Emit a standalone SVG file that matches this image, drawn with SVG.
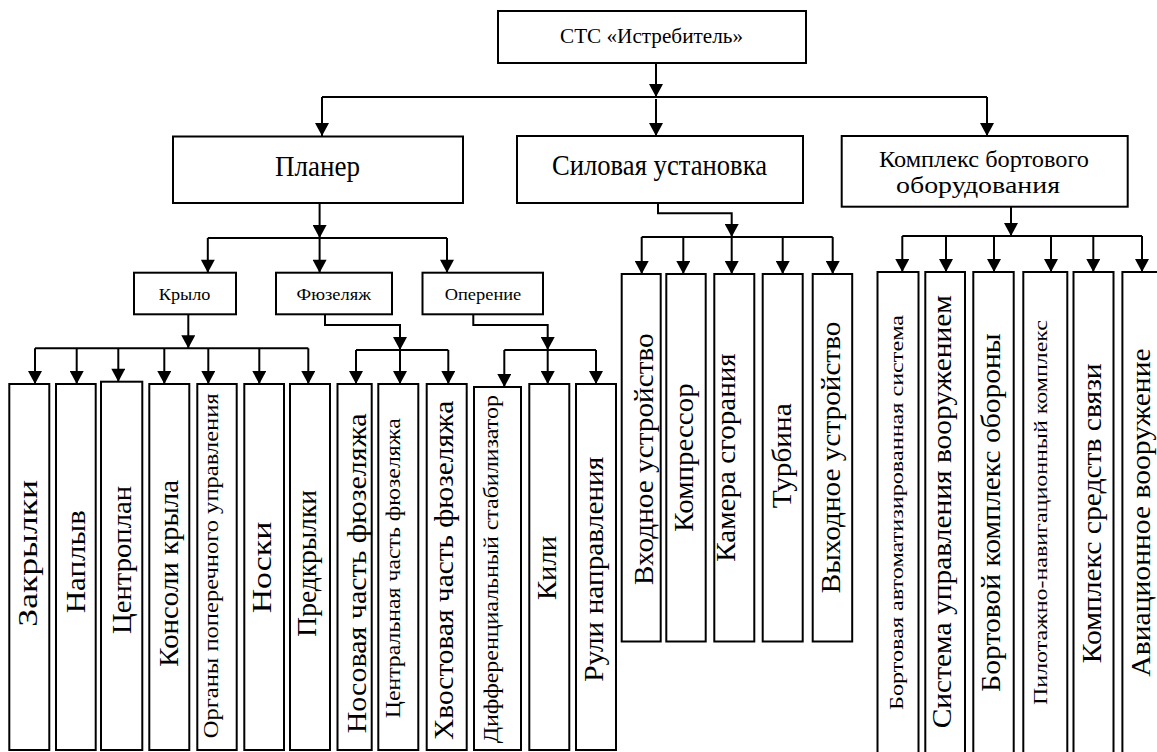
<svg xmlns="http://www.w3.org/2000/svg" width="1157" height="752" viewBox="0 0 1157 752">
<style>
.box{fill:#fff;stroke:#000;stroke-width:2}
.t{font-family:"Liberation Serif","Times New Roman",serif;fill:#000;text-anchor:middle}
.c{fill:none;stroke:#000;stroke-width:2}
.a{fill:none;stroke:#000;stroke-width:2;marker-end:url(#ah)}
.big{font-size:27px}
.mid{font-size:22px}
.sm{font-size:19px}
</style>
<defs>
<marker id="ah" markerUnits="userSpaceOnUse" markerWidth="14" markerHeight="14" viewBox="0 0 13 14" refX="13" refY="7" orient="auto">
<path d="M0,0 L13,7 L0,14 z" fill="#000"/>
</marker>
</defs>
<rect width="1157" height="752" fill="#fff"/>

<g id="connectors">
<path class="a" d="M656,63 V97"/>
<path class="c" d="M322,97 H987"/>
<path class="a" d="M322,97 V136"/>
<path class="a" d="M656,99 V136"/>
<path class="a" d="M987,97 V136"/>

<path class="a" d="M319.6,203 V238"/>
<path class="c" d="M207.8,238 H447"/>
<path class="a" d="M207.8,238 V272.7"/>
<path class="a" d="M319.6,238 V272.7"/>
<path class="a" d="M447,238 V272.7"/>

<path class="a" d="M188.3,314.3 V348.3"/>
<path class="c" d="M35,348.3 H308.3"/>
<path class="a" d="M35,348.3 V384"/>
<path class="a" d="M76.7,348.3 V384"/>
<path class="a" d="M118.3,348.3 V381.7"/>
<path class="a" d="M164.3,348.3 V384"/>
<path class="a" d="M208.3,348.3 V384"/>
<path class="a" d="M259.3,348.3 V384"/>
<path class="a" d="M308.3,348.3 V384"/>

<path class="a" d="M325,314 V325 H400 V350"/>
<path class="c" d="M356,350 H448.3"/>
<path class="a" d="M356,350 V384"/>
<path class="a" d="M400,350 V384"/>
<path class="a" d="M448.3,350 V384"/>

<path class="a" d="M473.3,314 V325 H547.7 V350"/>
<path class="c" d="M504.3,350 H596"/>
<path class="a" d="M504.3,350 V387"/>
<path class="a" d="M547.7,350 V384"/>
<path class="a" d="M596,350 V384"/>

<path class="a" d="M658,203 V213.3 H731.7 V237"/>
<path class="c" d="M641.7,237 H832.7"/>
<path class="a" d="M641.7,237 V274"/>
<path class="a" d="M683.3,237 V274"/>
<path class="a" d="M731.7,237 V274"/>
<path class="a" d="M782.7,237 V274"/>
<path class="a" d="M832.7,237 V274"/>

<path class="a" d="M1011,206.7 V236"/>
<path class="c" d="M902.3,236 H1142"/>
<path class="a" d="M902.3,236 V272"/>
<path class="a" d="M946,236 V272"/>
<path class="a" d="M994,236 V272"/>
<path class="a" d="M1051,236 V272"/>
<path class="a" d="M1093.3,236 V272"/>
<path class="a" d="M1142,236 V272"/>
</g>

<g id="n-root"><rect class="box" x="498" y="11" width="308" height="52"/><text class="t" x="651.5" y="43" font-size="20" textLength="183" lengthAdjust="spacingAndGlyphs">СТС «Истребитель»</text></g>

<g id="n-planer"><rect class="box" x="173" y="136.5" width="290" height="66.5"/><text class="t" x="317.5" y="176" font-size="29" textLength="85" lengthAdjust="spacingAndGlyphs">Планер</text></g>
<g id="n-silovaya"><rect class="box" x="517" y="136" width="286" height="67"/><text class="t" x="659.5" y="175" font-size="29" textLength="215" lengthAdjust="spacingAndGlyphs">Силовая установка</text></g>
<g id="n-kompleks"><rect class="box" x="841.7" y="136" width="286" height="70.7"/><text class="t" x="984" y="167" font-size="23" textLength="210" lengthAdjust="spacingAndGlyphs">Комплекс бортового</text><text class="t" x="978" y="193" font-size="23" textLength="164" lengthAdjust="spacingAndGlyphs">оборудования</text></g>

<g id="n-krylo"><rect class="box" x="134" y="272.7" width="102" height="41.6"/><text class="t" x="184.6" y="299.5" font-size="17" textLength="51.7" lengthAdjust="spacingAndGlyphs">Крыло</text></g>
<g id="n-fuzelyazh"><rect class="box" x="276" y="272.7" width="116" height="41.6"/><text class="t" x="333.8" y="299.5" font-size="17" textLength="74.4" lengthAdjust="spacingAndGlyphs">Фюзеляж</text></g>
<g id="n-operenie"><rect class="box" x="422.5" y="272.7" width="120.5" height="41.6"/><text class="t" x="483" y="299.5" font-size="17" textLength="76.5" lengthAdjust="spacingAndGlyphs">Оперение</text></g>

<g id="n-zakrylki"><rect class="box" x="9.3" y="384" width="40" height="366"/><text class="t big" transform="translate(37.1,553.3) rotate(-90)" textLength="146.7" lengthAdjust="spacingAndGlyphs">Закрылки</text></g>
<g id="n-naplyv"><rect class="box" x="56" y="384" width="39.7" height="366"/><text class="t big" transform="translate(84.5,561.7) rotate(-90)" textLength="103.3" lengthAdjust="spacingAndGlyphs">Наплыв</text></g>
<g id="n-tsentroplan"><rect class="box" x="101" y="381.7" width="41.3" height="368.3"/><text class="t big" transform="translate(131.1,560) rotate(-90)" textLength="148" lengthAdjust="spacingAndGlyphs">Центроплан</text></g>
<g id="n-konsoli"><rect class="box" x="149.3" y="384" width="40" height="366"/><text class="t big" transform="translate(177.8,573.3) rotate(-90)" textLength="186.7" lengthAdjust="spacingAndGlyphs">Консоли крыла</text></g>
<g id="n-organy"><rect class="box" x="197.3" y="384" width="39.4" height="366"/><text class="t" font-size="21" transform="translate(217.9,565.8) rotate(-90)" textLength="345" lengthAdjust="spacingAndGlyphs">Органы поперечного управления</text></g>
<g id="n-noski"><rect class="box" x="244.3" y="384" width="39.7" height="366"/><text class="t big" transform="translate(271.1,567.5) rotate(-90)" textLength="91.7" lengthAdjust="spacingAndGlyphs">Носки</text></g>
<g id="n-predkrylki"><rect class="box" x="290" y="384" width="40" height="366"/><text class="t big" transform="translate(316.1,563.3) rotate(-90)" textLength="146.7" lengthAdjust="spacingAndGlyphs">Предкрылки</text></g>

<g id="n-nosovaya"><rect class="box" x="337.5" y="384" width="34.2" height="366"/><text class="t big" transform="translate(366.1,573.3) rotate(-90)" textLength="320" lengthAdjust="spacingAndGlyphs">Носовая часть фюзеляжа</text></g>
<g id="n-tsentralnaya"><rect class="box" x="378.3" y="384" width="40" height="366"/><text class="t mid" transform="translate(399.5,568.3) rotate(-90)" textLength="300" lengthAdjust="spacingAndGlyphs">Центральная часть фюзеляжа</text></g>
<g id="n-khvostovaya"><rect class="box" x="426.7" y="384" width="40" height="366"/><text class="t big" transform="translate(452.8,570.3) rotate(-90)" textLength="339.3" lengthAdjust="spacingAndGlyphs">Хвостовая часть фюзеляжа</text></g>

<g id="n-diff"><rect class="box" x="474" y="387" width="47" height="363"/><text class="t mid" transform="translate(497.8,569.2) rotate(-90)" textLength="348.3" lengthAdjust="spacingAndGlyphs">Дифференциальный стабилизатор</text></g>
<g id="n-kili"><rect class="box" x="529.3" y="384" width="40" height="366"/><text class="t big" transform="translate(556.1,568) rotate(-90)" textLength="64" lengthAdjust="spacingAndGlyphs">Кили</text></g>
<g id="n-ruli"><rect class="box" x="576" y="384" width="40" height="366"/><text class="t big" transform="translate(602.8,569.2) rotate(-90)" textLength="225" lengthAdjust="spacingAndGlyphs">Рули направления</text></g>

<g id="n-vkhodnoe"><rect class="box" x="621.7" y="274" width="39" height="367.5"/><text class="t big" transform="translate(652.8,459.2) rotate(-90)" textLength="251.7" lengthAdjust="spacingAndGlyphs">Входное устройство</text></g>
<g id="n-kompressor"><rect class="box" x="666.3" y="274" width="39.4" height="367.5"/><text class="t big" transform="translate(692.8,457.5) rotate(-90)" textLength="148.3" lengthAdjust="spacingAndGlyphs">Компрессор</text></g>
<g id="n-kamera"><rect class="box" x="714.3" y="274" width="40" height="367.5"/><text class="t big" transform="translate(734.5,457.5) rotate(-90)" textLength="208.3" lengthAdjust="spacingAndGlyphs">Камера сгорания</text></g>
<g id="n-turbina"><rect class="box" x="762.7" y="274" width="40" height="367.5"/><text class="t big" transform="translate(791.1,455.8) rotate(-90)" textLength="105" lengthAdjust="spacingAndGlyphs">Турбина</text></g>
<g id="n-vykhodnoe"><rect class="box" x="812.7" y="274" width="39.5" height="367.5"/><text class="t big" transform="translate(839.5,457.5) rotate(-90)" textLength="271.7" lengthAdjust="spacingAndGlyphs">Выходное устройство</text></g>

<g id="n-bas"><rect class="box" x="877.5" y="272" width="41" height="483"/><text class="t" font-size="18" transform="translate(903,512.5) rotate(-90)" textLength="395" lengthAdjust="spacingAndGlyphs">Бортовая автоматизированная система</text></g>
<g id="n-suv"><rect class="box" x="925.3" y="272" width="39.7" height="483"/><text class="t big" transform="translate(951.1,511.7) rotate(-90)" textLength="433.3" lengthAdjust="spacingAndGlyphs">Система управления вооружением</text></g>
<g id="n-bko"><rect class="box" x="973.3" y="272" width="40.4" height="483"/><text class="t big" transform="translate(999.5,512.5) rotate(-90)" textLength="358.3" lengthAdjust="spacingAndGlyphs">Бортовой комплекс обороны</text></g>
<g id="n-pnk"><rect class="box" x="1023.3" y="272" width="44" height="483"/><text class="t sm" transform="translate(1047,512.5) rotate(-90)" textLength="385" lengthAdjust="spacingAndGlyphs">Пилотажно-навигационный комплекс</text></g>
<g id="n-kss"><rect class="box" x="1073.5" y="272" width="40" height="483"/><text class="t big" transform="translate(1101.1,513.3) rotate(-90)" textLength="300" lengthAdjust="spacingAndGlyphs">Комплекс средств связи</text></g>
<g id="n-av"><rect class="box" x="1122.4" y="272" width="41" height="483"/><text class="t big" transform="translate(1149.5,512.5) rotate(-90)" textLength="328.3" lengthAdjust="spacingAndGlyphs">Авиационное вооружение</text></g>
</svg>
